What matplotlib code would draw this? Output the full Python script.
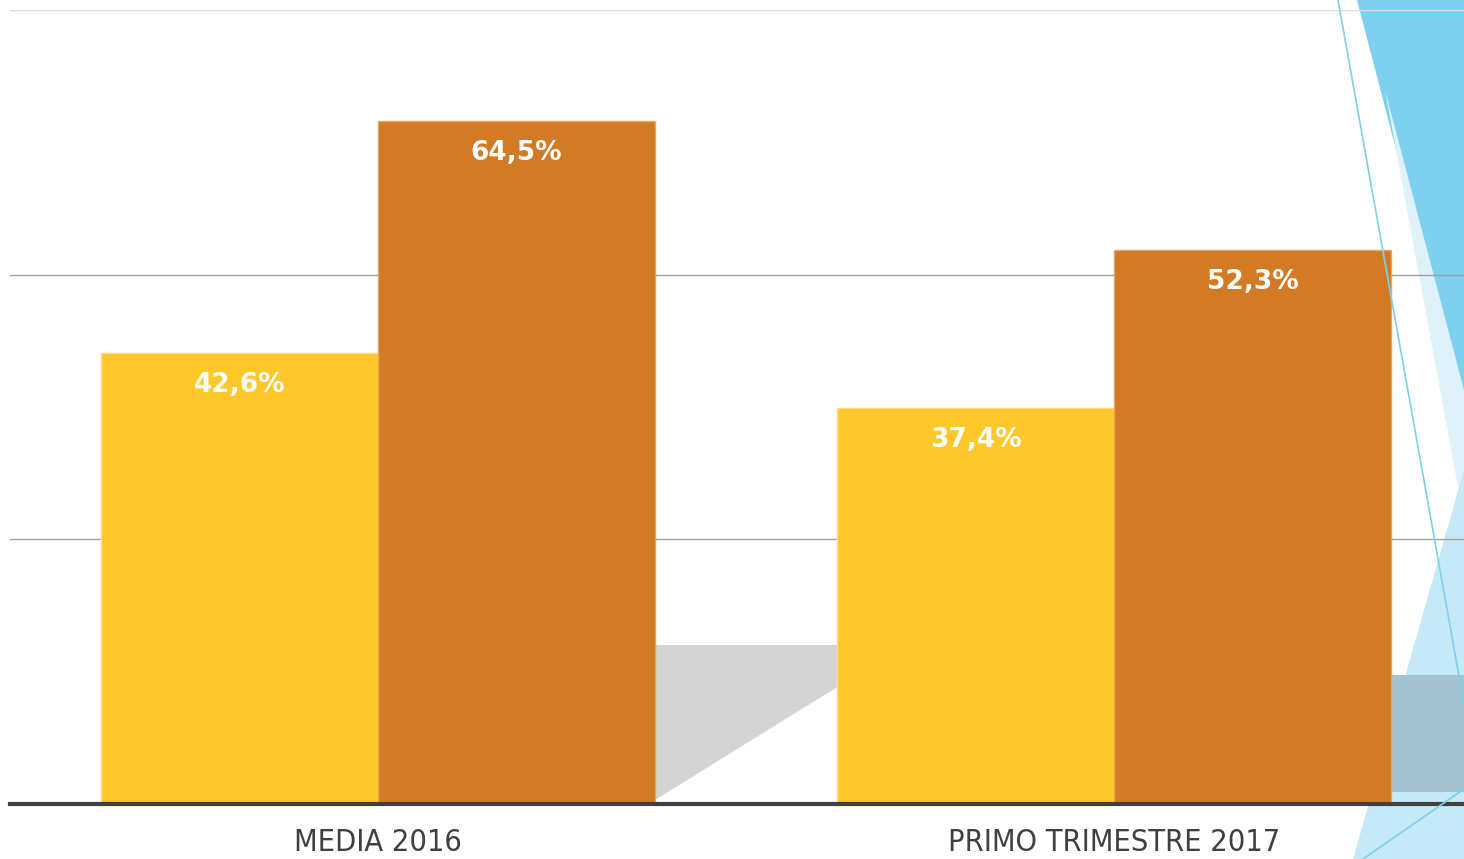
import numpy as np
import matplotlib
matplotlib.use("Agg")
import matplotlib.pyplot as plt
from matplotlib.patches import Polygon

categories = ["MEDIA 2016", "PRIMO TRIMESTRE 2017"]
series_a = [42.6, 37.4]
series_b = [64.5, 52.3]
value_labels_a = ["42,6%", "37,4%"]
value_labels_b = ["64,5%", "52,3%"]

W, H = 1464, 859
fig = plt.figure(figsize=(W / 100, H / 100), dpi=100)

# decorative background (pixel coords -> figure fraction)
def px(points):
    return [(x / W, 1 - y / H) for x, y in points]

deco = [
    ([(1357, 0), (1464, 0), (1464, 410)], "#7DD0EE"),
    ([(1385, 90), (1464, 390), (1464, 520)], "#DFF2FA"),
    ([(1353, 859), (1464, 470), (1464, 859)], "#C5E9F7"),
]
for pts, c in deco:
    fig.patches.append(Polygon(px(pts), closed=True, transform=fig.transFigure,
                               facecolor=c, edgecolor="none", zorder=-5))

ax = fig.add_axes([10 / W, 1 - 804 / H, (W - 10) / W, 794 / H])
ax.patch.set_alpha(0)

x = np.arange(len(categories))
width = 277 / 736

# soft shadow behind bars
ax.add_patch(Polygon(px([(655, 645), (905, 645), (655, 800)]), closed=True,
                     transform=fig.transFigure, facecolor="#D4D4D4",
                     edgecolor="none", zorder=1))
ax.add_patch(Polygon(px([(1392, 675), (1464, 675), (1464, 792), (1392, 792)]),
                     closed=True, transform=fig.transFigure, facecolor="#A4C2CF",
                     edgecolor="none", zorder=1))

bars_a = ax.bar(x - width / 2, series_a, width, color="#FEC82B",
                edgecolor="#FFDC80", linewidth=1, zorder=2)
bars_b = ax.bar(x + width / 2, series_b, width, color="#D37B24",
                edgecolor="#E6A766", linewidth=1, zorder=2)

for bars, labels in [(bars_a, value_labels_a), (bars_b, value_labels_b)]:
    for b, lab in zip(bars, labels):
        ax.annotate(lab, (b.get_x() + b.get_width() / 2, b.get_height()),
                    xytext=(0, -23), textcoords="offset points",
                    ha="center", va="center", color="white",
                    fontsize=19, fontweight="bold", zorder=5)

# thin decorative lines on the right
fig.add_artist(plt.Line2D([1338 / W, 1464 / W], [1, 1 - 704 / H],
                          transform=fig.transFigure, color="#7DD0EE", lw=1.2, zorder=6))
fig.add_artist(plt.Line2D([1363 / W, 1464 / W], [0, 1 - 789 / H],
                          transform=fig.transFigure, color="#7DD0EE", lw=1.2, zorder=6))

ax.set_xlim(-0.5, (W - 378) / 736)
ax.set_ylim(0, 75)
ax.set_yticks([25, 50, 75])
ax.yaxis.grid(True, color="#A0A0A0", linewidth=1)
ax.get_ygridlines()[-1].set_color("#DDDDDD")
ax.set_axisbelow(True)
ax.tick_params(axis="y", left=False, labelleft=False)
ax.tick_params(axis="x", length=0, pad=17)
ax.set_xticks(x)
ax.set_xticklabels(categories, fontsize=22, color="#404040", fontstretch="condensed")
for s in ["top", "right", "left"]:
    ax.spines[s].set_visible(False)
ax.spines["bottom"].set_color("#404040")
ax.spines["bottom"].set_linewidth(3)
ax.spines["bottom"].set_zorder(7)

fig.savefig("out.png", dpi=100)
